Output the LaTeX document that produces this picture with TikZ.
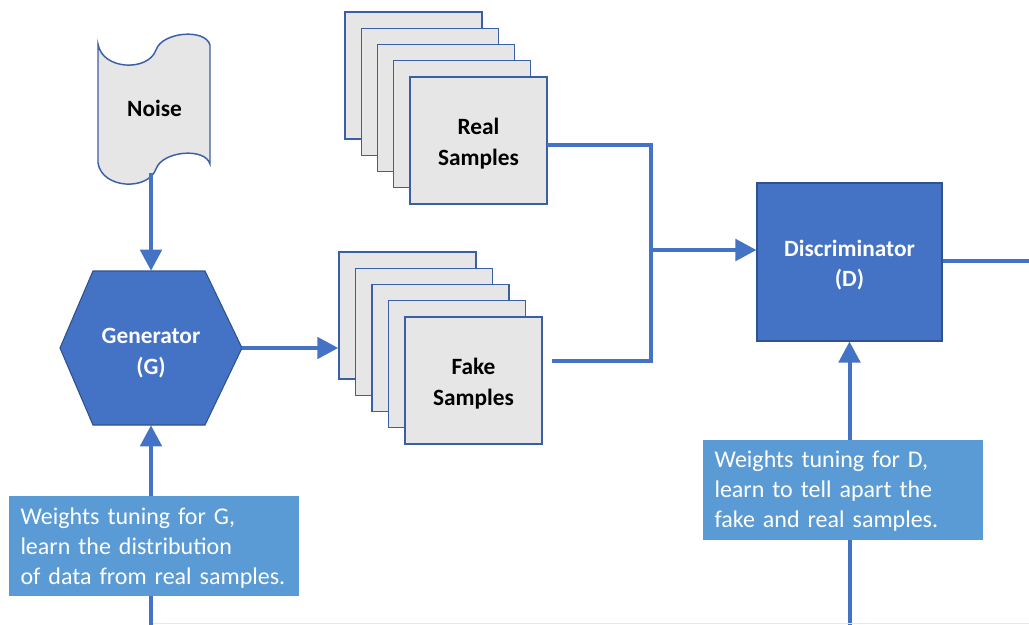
\documentclass[tikz,border=0pt]{standalone}
\usepackage{fontspec}
\setmainfont{Carlito}
\usetikzlibrary{arrows.meta}
\definecolor{mainblue}{HTML}{4472C4}
\definecolor{darkblue}{HTML}{2F528F}
\definecolor{edgeblue}{HTML}{3A5FA6}
\definecolor{paper}{HTML}{E7E6E6}
\definecolor{notefill}{HTML}{5B9BD5}
\definecolor{faintblue}{HTML}{DDEBF7}
\tikzset{
  sample/.style={draw=edgeblue, line width=1.1pt, fill=paper,
    minimum width=102.75pt, minimum height=95.25pt, inner sep=0pt},
  label/.style={font=\fontsize{17.5}{23}\selectfont\bfseries, align=center},
  flow/.style={draw=mainblue, line width=3pt},
  arrowflow/.style={flow, -{Triangle[length=15.75pt,width=16pt]}},
  note/.style={fill=notefill, text=white, inner ysep=0pt, inner xsep=8.25pt,
    minimum height=75pt, align=left,
    font=\fontsize{18}{22.5}\selectfont},
}
\begin{document}
\begin{tikzpicture}[x=0.75pt,y=-0.75pt]
\useasboundingbox (0,0) rectangle (1029,625);

% Noise source: punched-tape outline
\draw[edgeblue, line width=1.1pt, fill=paper]
  (98,44) .. controls (102,70) and (148,72) .. (156,50)
  .. controls (162,32) and (205,28) .. (210,45)
  -- (210,164)
  .. controls (205,147) and (162,151) .. (156,169)
  .. controls (148,191) and (102,189) .. (98,163) -- cycle;
\node[label] (noise) at (154.5,108) {Noise};
\coordinate (nbot) at (151,173);

% Generator hexagon
\draw[darkblue, line width=0.8pt, fill=mainblue]
  (93,271) -- (205,271) -- (242,348) -- (205,425) -- (93,425) -- (60,348) -- cycle;
\node[minimum width=136.5pt, minimum height=115.5pt] (gen) at (151,348) {};
\node[label, text=white] (gentext) at (151,353) {Generator\\(G)};

% Stacks of real and fake samples
\foreach \k in {1,...,5}
  \node[sample] (real\k) at ({413.5+16.25*(\k-1)},{75.5+16.25*(\k-1)}) {};
\node[label] (realtext) at (478.5,143.5) {Real\\Samples};
\foreach \k in {1,...,5}
  \node[sample] (fake\k) at ({407.5+16.5*(\k-1)},{315.5+16.25*(\k-1)}) {};
\node[label] (faketext) at (473.5,383.5) {Fake\\Samples};

% Discriminator
\node[draw=darkblue, line width=0.8pt, fill=mainblue,
  minimum width=138.75pt, minimum height=118.5pt] (disc) at (849.5,262) {};
\node[label, text=white] (disctext) at (849.5,265) {Discriminator\\(D)};

% Connectors
\coordinate (rstart) at (547,145);
\coordinate (fstart) at (552,361);
\coordinate (join) at (651,250);
\coordinate (dout) at (1029,261);
\coordinate (gbot) at (151,628);
\coordinate (dbot) at (849.5,628);

\draw[arrowflow] (nbot) -- (gen.north);
\draw[arrowflow] (gen.east) -- (gen.east -| fake1.west);
\draw[flow] (rstart) -| (join);
\draw[flow] (fstart) -| (join);
\draw[arrowflow] (join) -- (join -| disc.west);
\draw[flow] (disc.east |- dout) -- (dout);
\draw[arrowflow] (gbot) -- (gen.south);
\draw[arrowflow] (dbot) -- (disc.south);
\draw[faintblue, line width=1.2pt] (153,623.5) -- (dout |- 0,623.5);

% Training notes
\node[note, text width=201pt] (gnote) at (154,546) {};
\node[align=left, text=white, font=\fontsize{18}{22.5}\selectfont,
  text width=201pt] (gnotetext) at (154.5,548)
  {Weights tuning for G,\\learn the distribution\\of data from real samples.};
\node[note, text width=193.5pt] (dnote) at (843,490) {};
\node[align=left, text=white, font=\fontsize{18}{22.5}\selectfont,
  text width=193.5pt] (dnotetext) at (843.5,491.5)
  {Weights tuning for D,\\learn to tell apart the\\fake and real samples.};
\end{tikzpicture}
\end{document}
